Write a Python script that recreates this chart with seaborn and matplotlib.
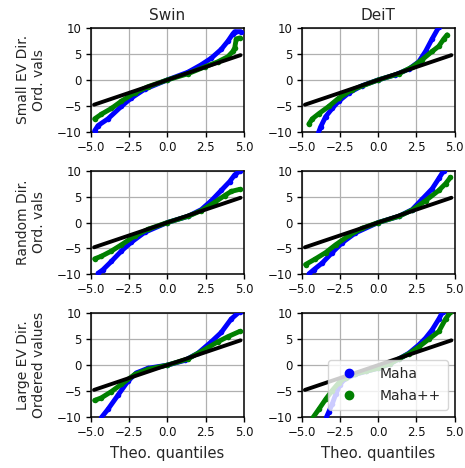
import matplotlib
matplotlib.use("Agg")
import matplotlib.pyplot as plt
from matplotlib.lines import Line2D
import seaborn as sns
import pandas as pd

models = ["Swin", "DeiT"]
row_labels = ["Small EV Dir.\nOrd. vals", "Random Dir.\nOrd. vals", "Large EV Dir.\nOrdered values"]
x_ticks = [-5.0, -2.5, 0.0, 2.5, 5.0]
y_ticks = [-10, -5, 0, 5, 10]

ref_x = [-4.78, 4.78]
ref_y = [-4.78, 4.78]

# Swin, small EV
sw_s_maha_x = [-4.74, -4.52, -3.87, -3.0, -2.35, -1.48, 0.0, 1.35, 2.2, 2.87, 3.52, 3.96, 4.28, 4.4, 4.78]
sw_s_maha_y = [-9.8, -8.8, -7.5, -5.1, -3.5, -1.8, 0.0, 1.5, 2.9, 4.2, 5.9, 7.5, 8.9, 9.3, 9.3]
sw_s_mpp_x = [-4.74, -4.3, -3.65, -3.0, -2.13, -1.26, 0.0, 1.35, 2.43, 3.3, 3.96, 4.28, 4.4, 4.5, 4.72]
sw_s_mpp_y = [-7.5, -6.6, -5.5, -4.1, -2.5, -1.3, 0.0, 1.2, 2.5, 3.5, 4.5, 5.5, 6.2, 7.9, 8.1]
# DeiT, small EV
de_s_maha_x = [-3.91, -3.76, -3.43, -3.0, -2.57, -1.91, -1.04, 0.0, 1.13, 2.0, 2.65, 3.09, 3.52, 3.96]
de_s_maha_y = [-10.3, -9.1, -7.1, -5.5, -4.1, -2.5, -1.1, 0.0, 1.0, 2.1, 3.5, 5.5, 7.9, 10.2]
de_s_mpp_x = [-4.52, -4.3, -3.87, -3.22, -2.57, -1.7, 0.0, 1.35, 2.22, 2.87, 3.52, 3.96, 4.28, 4.5]
de_s_mpp_y = [-8.5, -7.5, -6.5, -5.1, -3.5, -1.9, 0.0, 1.2, 2.5, 3.9, 5.5, 6.5, 7.9, 8.7]
# Swin, random
sw_r_maha_x = [-4.52, -4.2, -3.65, -3.0, -2.35, -1.48, 0.0, 1.35, 2.22, 2.87, 3.52, 4.07, 4.4, 4.72]
sw_r_maha_y = [-9.8, -9.1, -7.5, -5.5, -3.8, -1.9, 0.0, 1.2, 2.5, 4.2, 6.2, 7.9, 9.2, 9.9]
sw_r_mpp_x = [-4.74, -4.3, -3.65, -3.0, -2.13, -1.26, 0.0, 1.35, 2.22, 3.09, 3.74, 4.17, 4.72]
sw_r_mpp_y = [-7.0, -6.5, -5.5, -4.3, -2.6, -1.3, 0.0, 1.2, 2.3, 3.9, 5.2, 6.0, 6.4]
# DeiT, random
de_r_maha_x = [-4.52, -4.2, -3.65, -3.0, -2.35, -1.48, 0.0, 1.35, 2.22, 2.87, 3.52, 3.96, 4.28]
de_r_maha_y = [-9.9, -9.1, -7.8, -5.8, -3.9, -2.0, 0.0, 1.2, 2.5, 4.5, 6.5, 8.5, 10.0]
de_r_mpp_x = [-4.74, -4.09, -3.43, -2.78, -1.91, -1.04, 0.0, 1.35, 2.22, 3.09, 3.96, 4.4, 4.72]
de_r_mpp_y = [-8.1, -7.0, -5.8, -4.3, -2.5, -1.1, 0.0, 1.2, 2.4, 4.2, 6.2, 7.5, 8.7]
# Swin, large EV
sw_l_maha_x = [-4.3, -3.87, -3.22, -2.57, -2.02, -1.26, 0.0, 1.13, 2.0, 2.87, 3.52, 4.17, 4.72]
sw_l_maha_y = [-10.1, -8.5, -5.8, -3.1, -1.5, -0.6, 0.0, 0.9, 2.3, 4.5, 6.3, 8.9, 10.3]
sw_l_mpp_x = [-4.74, -4.3, -3.65, -3.0, -2.13, -1.26, 0.0, 1.35, 2.43, 3.3, 3.96, 4.72]
sw_l_mpp_y = [-6.8, -6.3, -5.1, -3.7, -1.8, -0.8, 0.0, 1.2, 3.0, 4.5, 5.5, 6.5]
# DeiT, large EV
de_l_maha_x = [-3.4, -3.22, -3.0, -2.75, -2.5, -2.2, -1.5, -0.8, 0.0, 0.8, 1.35, 2.0, 2.65, 3.09, 3.52, 3.96, 4.2]
de_l_maha_y = [-10.2, -9.0, -7.5, -5.5, -3.8, -2.7, -1.8, -1.2, -0.6, 0.3, 1.2, 2.3, 3.9, 5.2, 6.8, 8.9, 10.2]
de_l_mpp_x = [-4.3, -3.87, -3.43, -3.0, -2.57, -2.13, -1.5, -0.8, 0.0, 0.8, 1.35, 2.0, 2.65, 3.3, 3.96, 4.4, 4.72]
de_l_mpp_y = [-10.3, -8.5, -6.6, -4.9, -3.4, -2.4, -1.7, -1.2, -0.6, 0.3, 1.2, 2.2, 3.5, 5.0, 6.5, 8.9, 10.2]

panels = [
    [(sw_s_maha_x, sw_s_maha_y, sw_s_mpp_x, sw_s_mpp_y), (de_s_maha_x, de_s_maha_y, de_s_mpp_x, de_s_mpp_y)],
    [(sw_r_maha_x, sw_r_maha_y, sw_r_mpp_x, sw_r_mpp_y), (de_r_maha_x, de_r_maha_y, de_r_mpp_x, de_r_mpp_y)],
    [(sw_l_maha_x, sw_l_maha_y, sw_l_mpp_x, sw_l_mpp_y), (de_l_maha_x, de_l_maha_y, de_l_mpp_x, de_l_mpp_y)],
]

sns.set_style("ticks")
plt.rcParams['font.family'] = ['DejaVu Sans']

fig, axes = plt.subplots(3, 2, figsize=(4.65, 4.68), dpi=100)
fig.subplots_adjust(left=0.195, right=0.978, top=0.940, bottom=0.109, wspace=0.376, hspace=0.375)

for r in range(3):
    for c in range(2):
        ax = axes[r, c]
        mx, my, px, py = panels[r][c]
        ax.grid(True, color="#b0b0b0", linewidth=0.9, zorder=0)
        ax.set_axisbelow(True)
        sns.lineplot(x=mx, y=my, ax=ax, sort=False, color="blue", linewidth=3.5,
                     marker="o", markersize=4, markeredgewidth=0, zorder=3)
        sns.lineplot(x=px, y=py, ax=ax, sort=False, color="green", linewidth=3.5,
                     marker="o", markersize=4, markeredgewidth=0, zorder=4)
        sns.lineplot(x=ref_x, y=ref_y, ax=ax, sort=False, color="black", linewidth=2.8, zorder=5)
        ax.set_xlim(-5, 5)
        ax.set_ylim(-10, 10)
        ax.set_xticks(x_ticks)
        ax.set_yticks(y_ticks)
        ax.tick_params(labelsize=8.5, length=3.5, width=1, color="black", labelcolor="#111111", pad=3)
        for s in ax.spines.values():
            s.set_linewidth(1.1)
            s.set_color("black")
        if r == 0:
            ax.set_title(models[c], fontsize=11)
        if c == 0:
            ax.set_ylabel(row_labels[r], fontsize=10, labelpad=8)
        if r == 2:
            ax.set_xlabel("Theo. quantiles", fontsize=10.6, labelpad=5)

handles = [Line2D([], [], linestyle="none", marker="o", color="blue", markersize=6),
           Line2D([], [], linestyle="none", marker="o", color="green", markersize=6)]
axes[2, 1].legend(handles, ["Maha", "Maha++"], loc="lower right", fontsize=10,
                  frameon=True, framealpha=0.8, handletextpad=1.2, borderpad=0.5,
                  labelspacing=0.6)

fig.savefig("out.png", dpi=100)
